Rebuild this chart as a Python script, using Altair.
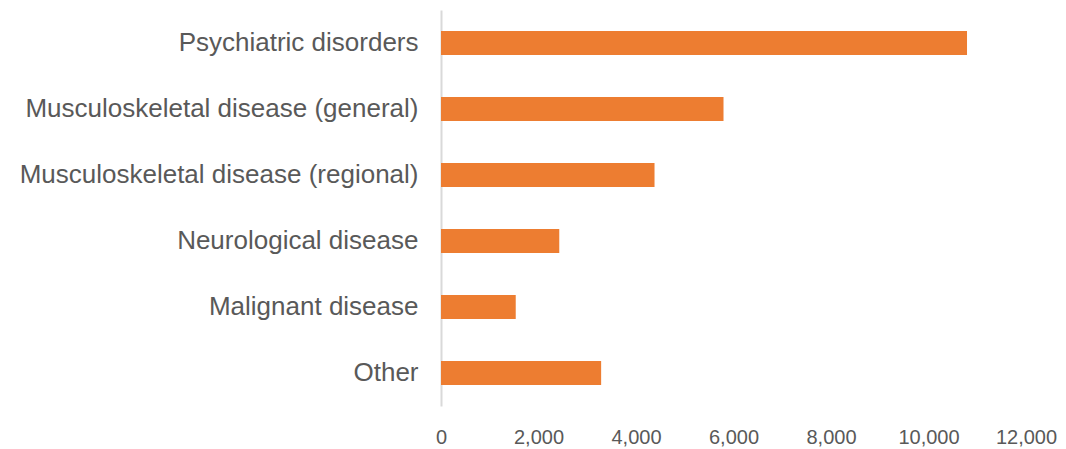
import altair as alt
import pandas as pd

categories = [
    "Psychiatric disorders",
    "Musculoskeletal disease (general)",
    "Musculoskeletal disease (regional)",
    "Neurological disease",
    "Malignant disease",
    "Other",
]
values = [10790, 5795, 4380, 2426, 1533, 3285]
x_ticks = [0, 2000, 4000, 6000, 8000, 10000, 12000]

df = pd.DataFrame({"category": categories, "value": values})

chart = (
    alt.Chart(df)
    .mark_bar(color="#ED7D31")
    .encode(
        x=alt.X(
            "value:Q",
            scale=alt.Scale(domain=[0, 12000], nice=False),
            axis=alt.Axis(
                values=x_ticks,
                format=",d",
                title=None,
                grid=False,
                domain=False,
                ticks=False,
                labelFont="Liberation Sans",
                labelFontSize=20,
                labelColor="#595959",
                labelPadding=21,
                labelFlush=False,
            ),
        ),
        y=alt.Y(
            "category:N",
            sort=categories,
            scale=alt.Scale(paddingInner=0.636, paddingOuter=0.318),
            axis=alt.Axis(
                title=None,
                ticks=False,
                domain=True,
                domainColor="#D9D9D9",
                domainWidth=2,
                labelFont="Liberation Sans",
                labelFontSize=26,
                labelColor="#595959",
                labelPadding=23,
                labelLimit=600,
            ),
        ),
    )
    .properties(
        width=585,
        height=396,
        autosize=alt.AutoSizeParams(type="none"),
        padding={"left": 433, "top": 2, "right": 32, "bottom": 43},
    )
    .configure_view(stroke=None)
)

chart.save("out.html", embed_options={"renderer": "svg", "actions": False})
